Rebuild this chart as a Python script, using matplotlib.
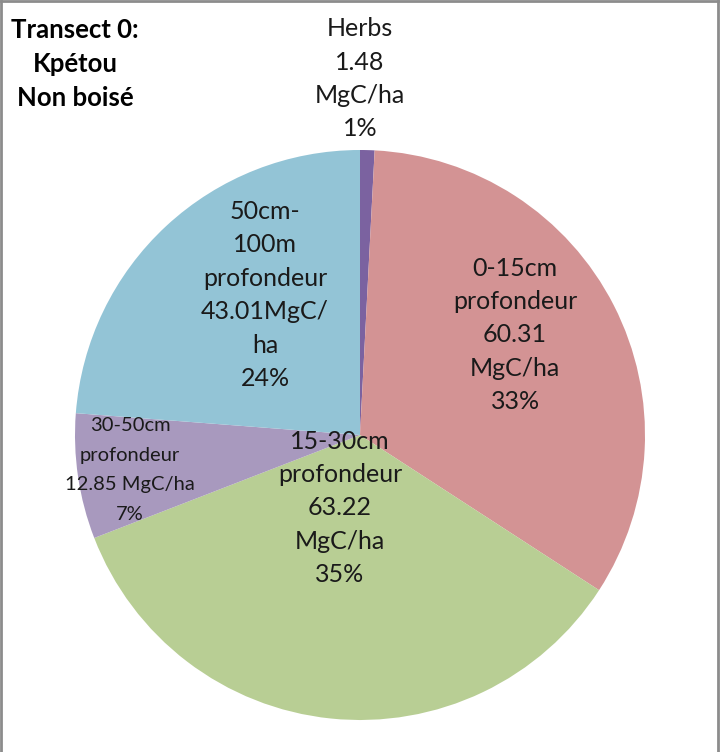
import matplotlib.pyplot as plt
from matplotlib.lines import Line2D

# %% DATA
categories = ["Herbs", "0-15cm", "15-30cm", "30-50cm", "50cm-100m"]
values = [1.48, 60.31, 63.22, 12.85, 43.01]
colors = ["#7B62A0", "#D39394", "#B8CE94", "#A899BE", "#93C4D6"]
title_lines = ["Transect 0:", "Kpétou", "Non boisé"]

total = sum(values)
pcts = [round(v / total * 100) for v in values]

labels = [
    f"Herbs\n{values[0]:.2f}\nMgC/ha\n{pcts[0]}%",
    f"0-15cm\nprofondeur\n{values[1]:.2f}\nMgC/ha\n{pcts[1]}%",
    f"15-30cm\nprofondeur\n{values[2]:.2f}\nMgC/ha\n{pcts[2]}%",
    f"30-50cm\nprofondeur\n{values[3]:.2f} MgC/ha\n{pcts[3]}%",
    f"50cm-\n100m\nprofondeur\n{values[4]:.2f}MgC/\nha\n{pcts[4]}%",
]
# label centres in pie units (radius = 1)
label_pos = [(0.0, 1.25), (0.544, 0.351), (-0.07, -0.256), (-0.807, -0.123), (-0.333, 0.491)]

# %% PLOT
fig = plt.figure(figsize=(7.21, 7.52), dpi=100)
ax = fig.add_axes([75 / 721, 1 - 720 / 752, 570 / 721, 570 / 752])
ax.pie(values, colors=colors, startangle=90, counterclock=False,
       radius=1, wedgeprops=dict(linewidth=0))
ax.set_xlim(-1, 1)
ax.set_ylim(-1, 1)
ax.set_aspect("equal")
ax.axis("off")

for i, (txt, (x, y)) in enumerate(zip(labels, label_pos)):
    if i == 3:
        ax.text(x, y, txt, ha="center", va="center", fontsize=14.5,
                family="Lato", color="#1a1a1a", linespacing=1.9,
                clip_on=False)
    else:
        ax.text(x, y, txt, ha="center", va="center", fontsize=18,
                family="Lato", color="#1a1a1a", linespacing=1.55,
                clip_on=False)

fig.text(75 / 721, 1 - 64 / 752, "\n".join(title_lines), ha="center",
         va="center", fontsize=18.5, fontweight="bold", family="Lato",
         linespacing=1.5)

# frame around the chart area
for xs, ys in [([0.001, 0.001], [0, 0.999]), ([0.001, 0.996], [0.999, 0.999]),
               ([0.996, 0.996], [0, 0.999])]:
    fig.add_artist(Line2D(xs, ys, color="#8C8C8C", linewidth=2,
                          transform=fig.transFigure))

fig.savefig("out.png", dpi=100)
